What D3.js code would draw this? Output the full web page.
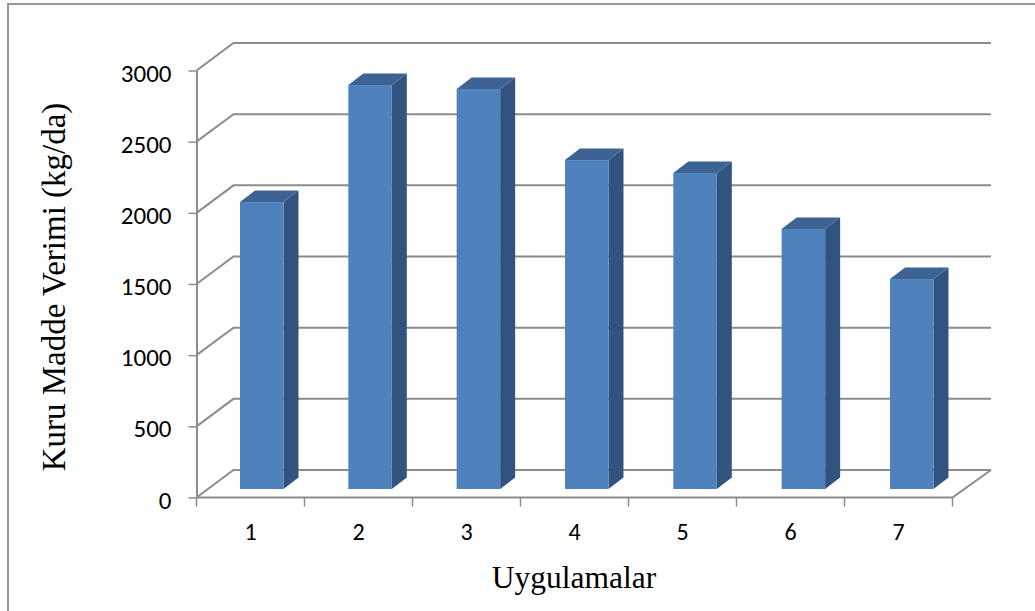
<!DOCTYPE html>
<html>
<head>
<meta charset="utf-8">
<script src="https://cdn.jsdelivr.net/npm/d3@7"></script>
<style>
  html, body { margin: 0; padding: 0; background: #fff; }
  svg { display: block; }
</style>
</head>
<body>
<div id="chart"></div>
<script>
// Dati
const categories = ["1", "2", "3", "4", "5", "6", "7"];
const values = [2016, 2838, 2810, 2311, 2220, 1827, 1475];
const yTicks = [0, 500, 1000, 1500, 2000, 2500, 3000];

const width = 1035, height = 611;
const svg = d3.select("#chart").append("svg")
  .attr("width", width)
  .attr("height", height);

// cornice (solo sinistra e sopra)
svg.append("path")
  .attr("d", "M8,611V4H1035")
  .attr("fill", "none")
  .attr("stroke", "#969696")
  .attr("stroke-width", 2);

const x = d3.scaleBand().domain(categories).range([196.5, 952.5]);
const y = d3.scaleLinear().domain([0, 3000]).range([497.5, 70.5]);
// le barre stanno sul piano arretrato, passo appena piu largo
const xBar = d3.scaleBand().domain(categories).range([240, 998.3]);

// profondita 3D
const dx = 37, dy = -27.5;
const barDx = 15, barDy = -11.5;
const barOffY = -8.5;
const gridColor = "#8c8c8c";
const tickFont = "Carlito, 'Open Sans', 'Noto Sans', sans-serif";

const grid = svg.append("g").attr("fill", "none").attr("stroke", gridColor).attr("stroke-width", 2);
yTicks.forEach(t => {
  grid.append("path")
    .attr("d", `M${x.range()[0]},${y(t)}L${x.range()[0] + dx},${y(t) + dy}H${x.range()[1] + dx + 1.5}`);
});
// base
grid.append("path")
  .attr("d", `M${x.range()[0]},${y(0)}H${x.range()[1]}L${x.range()[1] + dx + 1.5},${y(0) + dy}`);

// assi
const yAxis = svg.append("g")
  .attr("transform", `translate(${x.range()[0]},0)`)
  .call(d3.axisLeft(y).tickValues(yTicks).tickFormat(d3.format("d")).tickSize(8).tickSizeOuter(0).tickPadding(17));
const xAxis = svg.append("g")
  .attr("transform", `translate(0,${y(0)})`)
  .call(d3.axisBottom(x).tickSize(0).tickPadding(25));

// tacche sull'asse x, ai bordi delle bande
svg.append("g").selectAll("line")
  .data(d3.range(categories.length + 1))
  .enter().append("line")
  .attr("x1", i => x.range()[0] + i * x.step())
  .attr("x2", i => x.range()[0] + i * x.step())
  .attr("y1", y(0))
  .attr("y2", y(0) + 9)
  .attr("stroke", gridColor)
  .attr("stroke-width", 1.5);

[yAxis, xAxis].forEach(a => {
  a.selectAll("path").attr("stroke", gridColor).attr("stroke-width", 2);
  a.selectAll("line").attr("stroke", gridColor).attr("stroke-width", 1.5);
  a.selectAll("text").attr("font-family", tickFont).attr("fill", "#000");
});
yAxis.selectAll("text").attr("font-size", 25).attr("dy", "0.42em");
xAxis.selectAll("text").attr("font-size", 24);
xAxis.select("path").remove();

// barre
const barW = 43.5;
const bars = svg.append("g").selectAll("g")
  .data(categories.map((c, i) => ({ c, v: values[i] })))
  .enter().append("g");

bars.append("path")
  .attr("fill", "#325380")
  .attr("d", d => {
    const x1 = xBar(d.c) + barW, t = y(d.v) + barOffY, b = y(0) + barOffY;
    return `M${x1},${t}l${barDx},${barDy}V${b + barDy}L${x1},${b}Z`;
  });
bars.append("path")
  .attr("fill", "#3c6394")
  .attr("d", d => {
    const x0 = xBar(d.c), t = y(d.v) + barOffY;
    return `M${x0},${t}l${barDx},${barDy}h${barW}l${-barDx},${-barDy}Z`;
  });
bars.append("rect")
  .attr("fill", "#4f81bd")
  .attr("x", d => xBar(d.c))
  .attr("width", barW)
  .attr("y", d => y(d.v) + barOffY)
  .attr("height", d => y(0) - y(d.v));

// titoli assi
svg.append("text")
  .attr("transform", "translate(65,287) rotate(-90)")
  .attr("text-anchor", "middle")
  .attr("font-family", "'Liberation Serif', serif")
  .attr("font-size", 33)
  .text("Kuru Madde Verimi (kg/da)");
svg.append("text")
  .attr("x", 574)
  .attr("y", 588)
  .attr("text-anchor", "middle")
  .attr("font-family", "'Liberation Serif', serif")
  .attr("font-size", 31.5)
  .text("Uygulamalar");
</script>
</body>
</html>
